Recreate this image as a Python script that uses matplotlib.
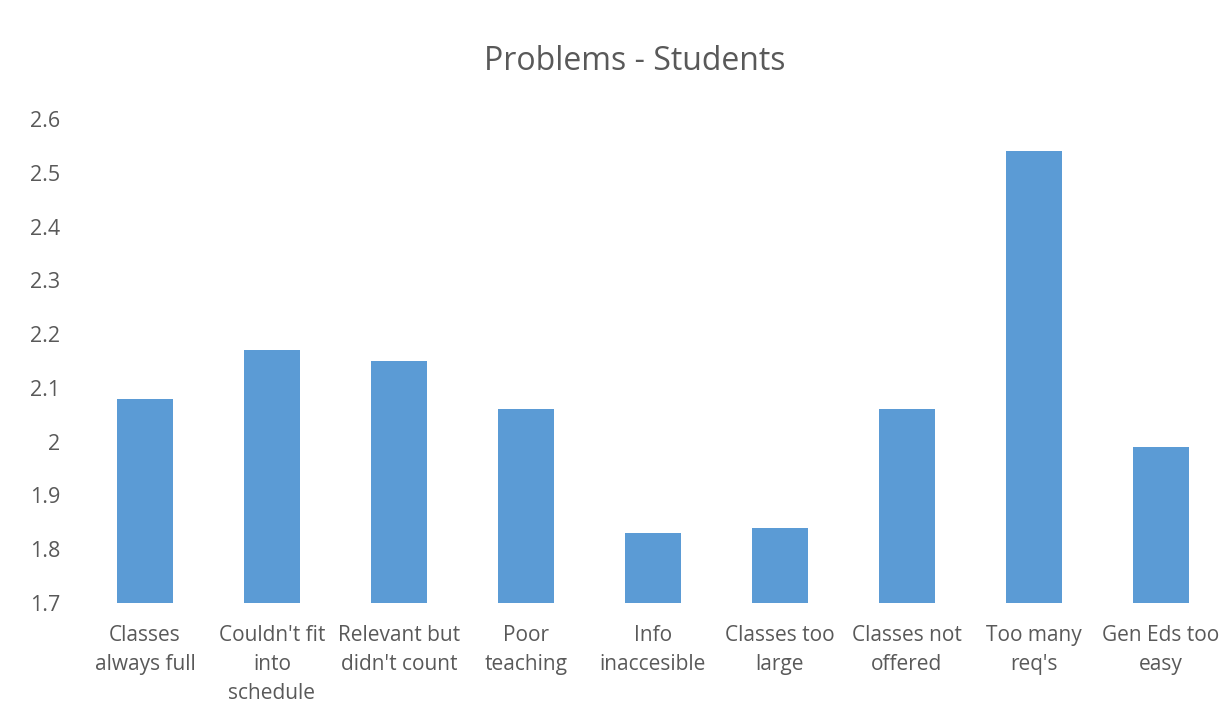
import matplotlib
matplotlib.use("Agg")
import matplotlib.pyplot as plt

categories = [
    "Classes\nalways full",
    "Couldn't fit\ninto\nschedule",
    "Relevant but\ndidn't count",
    "Poor\nteaching",
    "Info\ninaccesible",
    "Classes too\nlarge",
    "Classes not\noffered",
    "Too many\nreq's",
    "Gen Eds too\neasy",
]
values = [2.08, 2.17, 2.15, 2.06, 1.83, 1.84, 2.06, 2.54, 1.99]
y_ticks = [1.7, 1.8, 1.9, 2.0, 2.1, 2.2, 2.3, 2.4, 2.5, 2.6]
y_tick_labels = ["1.7", "1.8", "1.9", "2", "2.1", "2.2", "2.3", "2.4", "2.5", "2.6"]

text_color = "#595959"
bar_color = "#5B9BD5"
plt.rcParams["font.family"] = ["Open Sans", "DejaVu Sans"]

fig = plt.figure(figsize=(12.27, 7.02), dpi=100)
ax = fig.add_axes([0.0664, 0.141, 0.9315, 0.6895])

x = range(len(categories))
ax.bar(x, values, width=0.44, color=bar_color)
ax.set_xlim(-0.5, len(categories) - 0.5)
ax.set_ylim(1.7, 2.6)
ax.set_yticks(y_ticks)
ax.set_yticklabels(y_tick_labels)
ax.set_xticks(list(x))
ax.set_xticklabels(categories, linespacing=1.5)

for s in ax.spines.values():
    s.set_visible(False)
ax.tick_params(axis="y", length=0, pad=15.5, labelsize=15.5, labelcolor=text_color)
ax.tick_params(axis="x", length=0, pad=16, labelsize=15, labelcolor=text_color)

fig.text(0.517, 0.912, "Problems - Students", ha="center", va="center",
         fontsize=23, color=text_color)

fig.savefig("out.png", dpi=100, facecolor="white")
